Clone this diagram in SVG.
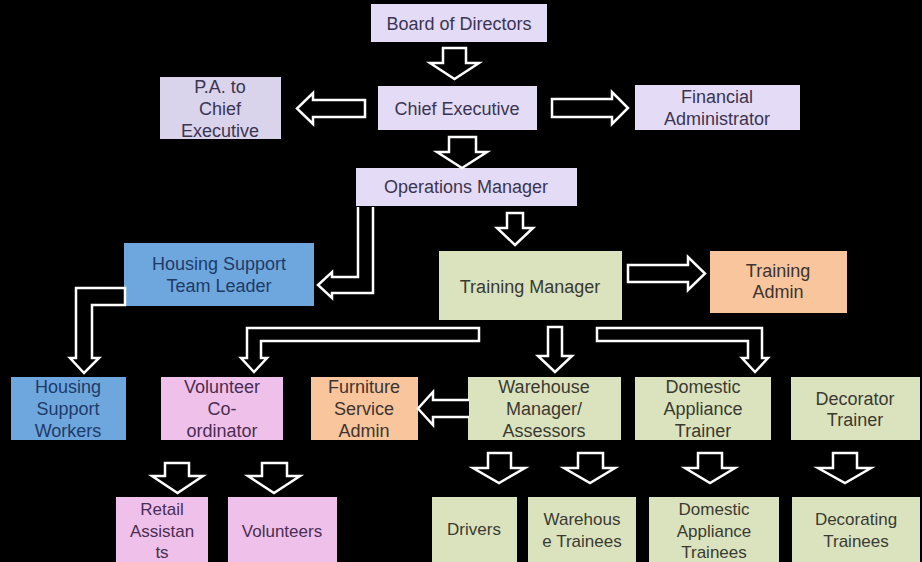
<svg xmlns="http://www.w3.org/2000/svg" width="922" height="562" viewBox="0 0 922 562">
<style>
.bg{fill:#000}
.lav{fill:#E4DBF6}
.pa{fill:#D9D3EB}
.blue{fill:#6EA7DE}
.green{fill:#DBE3BE}
.peach{fill:#F8C59D}
.pink{fill:#EFC1EA}
text{font-family:"Liberation Sans",Arial,sans-serif;font-size:18px;text-anchor:middle}
.tl{fill:#3B3552}
.tb{fill:#1E3B68}
.tg{fill:#3A3A32}
.tp{fill:#3D3430}
.tk{fill:#4A2D52}
.sm{font-size:17px}
.arr{fill:#000;stroke:#fff;stroke-width:2.5;stroke-linejoin:miter}
</style>
<rect class="bg" x="0" y="0" width="922" height="562"/>

<g id="board"><rect class="lav" x="371" y="4" width="176" height="38"/><text class="tl" x="459" y="30">Board of Directors</text></g>
<g id="chief"><rect class="lav" x="378" y="86" width="159" height="44"/><text class="tl" x="457" y="115">Chief Executive</text></g>
<g id="pa"><rect class="pa" x="160" y="77" width="121" height="62"/><text class="tl" x="220" y="93">P.A. to</text><text class="tl" x="220" y="115">Chief</text><text class="tl" x="220" y="137">Executive</text></g>
<g id="financial"><rect class="lav" x="635" y="85" width="165" height="45"/><text class="tl" x="717" y="103">Financial</text><text class="tl" x="717" y="125">Administrator</text></g>
<g id="operations"><rect class="lav" x="356" y="168" width="221" height="38"/><text class="tl" x="466" y="193">Operations Manager</text></g>
<g id="htl"><rect class="blue" x="124" y="243" width="190" height="63"/><text class="tb" x="219" y="270">Housing Support</text><text class="tb" x="219" y="292">Team Leader</text></g>
<g id="training-manager"><rect class="green" x="439" y="251" width="183" height="69"/><text class="tg" x="530" y="293">Training Manager</text></g>
<g id="training-admin"><rect class="peach" x="710" y="251" width="137" height="62"/><text class="tp" x="778" y="277">Training</text><text class="tp" x="778" y="298">Admin</text></g>
<g id="hsw"><rect class="blue" x="11" y="377" width="115" height="63"/><text class="tb" x="68" y="393">Housing</text><text class="tb" x="68" y="415">Support</text><text class="tb" x="68" y="437">Workers</text></g>
<g id="volco"><rect class="pink" x="161" y="377" width="122" height="63"/><text class="tk" x="222" y="393">Volunteer</text><text class="tk" x="222" y="415">Co-</text><text class="tk" x="222" y="437">ordinator</text></g>
<g id="furniture"><rect class="peach" x="311" y="377" width="107" height="63"/><text class="tp" x="364" y="393">Furniture</text><text class="tp" x="364" y="415">Service</text><text class="tp" x="364" y="437">Admin</text></g>
<g id="warehouse-manager"><rect class="green" x="468" y="377" width="153" height="63"/><text class="tg" x="544" y="393">Warehouse</text><text class="tg" x="544" y="415">Manager/</text><text class="tg" x="544" y="437">Assessors</text></g>
<g id="dat"><rect class="green" x="635" y="377" width="136" height="63"/><text class="tg" x="703" y="393">Domestic</text><text class="tg" x="703" y="415">Appliance</text><text class="tg" x="703" y="437">Trainer</text></g>
<g id="decorator"><rect class="green" x="791" y="377" width="129" height="63"/><text class="tg" x="855" y="405">Decorator</text><text class="tg" x="855" y="426">Trainer</text></g>
<g id="retail"><rect class="pink" x="116" y="497" width="92" height="65"/><text class="tk sm" x="162" y="515">Retail</text><text class="tk sm" x="162" y="537">Assistan</text><text class="tk sm" x="162" y="558">ts</text></g>
<g id="volunteers"><rect class="pink" x="228" y="497" width="109" height="65"/><text class="tk sm" x="282" y="537">Volunteers</text></g>
<g id="drivers"><rect class="green" x="432" y="497" width="85" height="65"/><text class="tg sm" x="474" y="535">Drivers</text></g>
<g id="warehouse-trainees"><rect class="green" x="528" y="497" width="108" height="65"/><text class="tg sm" x="582" y="525">Warehous</text><text class="tg sm" x="582" y="547">e Trainees</text></g>
<g id="da-trainees"><rect class="green" x="649" y="497" width="130" height="65"/><text class="tg sm" x="714" y="515">Domestic</text><text class="tg sm" x="714" y="537">Appliance</text><text class="tg sm" x="714" y="558">Trainees</text></g>
<g id="decorating-trainees"><rect class="green" x="792" y="497" width="128" height="65"/><text class="tg sm" x="856" y="525">Decorating</text><text class="tg sm" x="856" y="547">Trainees</text></g>

<g id="connectors">
<path class="arr" d="M443,48 L466,48 L466,63 L479,63 L454.5,79 L430,63 L443,63 Z"/>
<path class="arr" d="M365,100 L313,100 L313,93 L297,108.5 L313,124 L313,117 L365,117 Z"/>
<path class="arr" d="M552,99 L612,99 L612,92 L628,108 L612,124 L612,117 L552,117 Z"/>
<path class="arr" d="M449,137 L476,137 L476,152 L487,152 L462,168 L437,152 L449,152 Z"/>
<path class="arr" d="M507,213 L523,213 L523,228 L533,228 L515,245 L497,228 L507,228 Z"/>
<path class="arr" d="M358,207 L358,277 L332,277 L332,272 L318,285 L332,298 L332,293 L373,293 L373,207"/>
<path class="arr" d="M125,288 L76,288 L76,358 L70,358 L84,373 L99,358 L92,358 L92,305 L125,305 Z"/>
<path class="arr" d="M628,265 L688,265 L688,257 L705,273.5 L688,290 L688,282 L628,282 Z"/>
<path class="arr" d="M479,328 L247,328 L247,358 L241,358 L254,372 L267,358 L261,358 L261,341 L479,341 Z"/>
<path class="arr" d="M548,327 L562,327 L562,356 L572,356 L555,372 L538,356 L548,356 Z"/>
<path class="arr" d="M597,328 L762,328 L762,358 L768,358 L755,372 L742,358 L748,358 L748,341 L597,341 Z"/>
<path class="arr" d="M469,400 L433,400 L433,392 L418,408.5 L433,425 L433,417 L469,417"/>
<path class="arr" d="M165,463 L189,463 L189,476 L203,476 L177.5,493 L152,476 L165,476 Z"/>
<path class="arr" d="M262,463 L287,463 L287,476 L300,476 L274,493 L248,476 L262,476 Z"/>
<path class="arr" d="M488,453 L511,453 L511,468 L525,468 L499,483 L473,468 L488,468 Z"/>
<path class="arr" d="M578,453 L603,453 L603,468 L615,468 L590,483 L564,468 L578,468 Z"/>
<path class="arr" d="M698,453 L722,453 L722,468 L735,468 L710,483 L685,468 L698,468 Z"/>
<path class="arr" d="M833,453 L857,453 L857,468 L871,468 L845,483 L818,468 L833,468 Z"/>
</g>
</svg>
